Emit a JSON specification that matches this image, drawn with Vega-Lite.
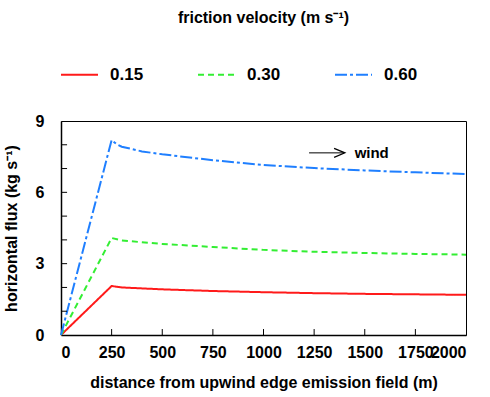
{
  "$schema": "https://vega.github.io/schema/vega-lite/v6.json",
  "autosize": {"type": "none"},
  "padding": {"left": 61, "top": 121, "right": 24, "bottom": 62},
  "width": 405,
  "height": 214,
  "background": "white",
  "title": {"text": "friction velocity (m s⁻¹)", "anchor": "middle", "frame": "group", "font": "Liberation Sans", "fontSize": 16, "fontWeight": "bold", "color": "black", "offset": 29},
  "config": {
    "view": {"stroke": "black", "strokeWidth": 1},
    "axis": {"domainColor": "black", "domainWidth": 1.5, "grid": false, "ticks": false, "labelFont": "Liberation Sans", "labelFontSize": 16, "labelFontWeight": "bold", "labelColor": "black", "titleFont": "Liberation Sans", "titleFontSize": 16, "titleFontWeight": "bold", "titleColor": "black"},
    "legend": {"labelFont": "Liberation Sans", "labelFontSize": 17, "labelFontWeight": "bold", "labelColor": "black"}
  },
  "datasets": {
    "xticks": [{"t": 250}, {"t": 500}, {"t": 750}, {"t": 1000}, {"t": 1250}, {"t": 1500}, {"t": 1750}],
    "yticks": [{"t": 1}, {"t": 2}, {"t": 3}, {"t": 4}, {"t": 5}, {"t": 6}, {"t": 7}, {"t": 8}]
  },
  "layer": [
    {
      "data": {"values": [
        {"u": "0.15", "x": 0, "flux": 0}, {"u": "0.15", "x": 250, "flux": 2.06}, {"u": "0.15", "x": 300, "flux": 2.0}, {"u": "0.15", "x": 500, "flux": 1.92}, {"u": "0.15", "x": 750, "flux": 1.85}, {"u": "0.15", "x": 1000, "flux": 1.8}, {"u": "0.15", "x": 1250, "flux": 1.76}, {"u": "0.15", "x": 1500, "flux": 1.73}, {"u": "0.15", "x": 1750, "flux": 1.71}, {"u": "0.15", "x": 2000, "flux": 1.69},
        {"u": "0.30", "x": 0, "flux": 0}, {"u": "0.30", "x": 250, "flux": 4.08}, {"u": "0.30", "x": 300, "flux": 3.98}, {"u": "0.30", "x": 400, "flux": 3.9}, {"u": "0.30", "x": 500, "flux": 3.83}, {"u": "0.30", "x": 750, "flux": 3.7}, {"u": "0.30", "x": 1000, "flux": 3.58}, {"u": "0.30", "x": 1250, "flux": 3.5}, {"u": "0.30", "x": 1500, "flux": 3.45}, {"u": "0.30", "x": 1750, "flux": 3.41}, {"u": "0.30", "x": 2000, "flux": 3.38},
        {"u": "0.60", "x": 0, "flux": 0}, {"u": "0.60", "x": 250, "flux": 8.2}, {"u": "0.60", "x": 275, "flux": 8.02}, {"u": "0.60", "x": 300, "flux": 7.92}, {"u": "0.60", "x": 400, "flux": 7.72}, {"u": "0.60", "x": 500, "flux": 7.6}, {"u": "0.60", "x": 750, "flux": 7.35}, {"u": "0.60", "x": 1000, "flux": 7.15}, {"u": "0.60", "x": 1250, "flux": 7.02}, {"u": "0.60", "x": 1500, "flux": 6.92}, {"u": "0.60", "x": 1750, "flux": 6.84}, {"u": "0.60", "x": 2000, "flux": 6.77}
      ]},
      "mark": {"type": "line", "strokeWidth": 2},
      "encoding": {
        "x": {"field": "x", "type": "quantitative", "scale": {"domain": [0, 2000], "nice": false}, "axis": {"values": [0, 250, 500, 750, 1000, 1250, 1500, 1750, 2000], "format": "d", "title": "distance from upwind edge emission field (m)", "labelOverlap": false, "labelPadding": 9, "titlePadding": 14}},
        "y": {"field": "flux", "type": "quantitative", "scale": {"domain": [0, 9], "nice": false}, "axis": {"values": [0, 3, 6, 9], "title": "horizontal flux (kg s⁻¹)", "labelOverlap": false, "labelFlush": false, "labelPadding": 17, "titlePadding": 16}},
        "color": {"field": "u", "type": "nominal", "scale": {"domain": ["0.15", "0.30", "0.60"], "range": ["#ff1a1a", "#33ee33", "#1f7fff"]}, "legend": {"title": null, "orient": "none", "direction": "horizontal", "legendX": -1, "legendY": -66, "symbolType": "stroke", "symbolSize": 1369, "symbolStrokeWidth": 2, "labelOffset": 11, "columnPadding": 50}},
        "strokeDash": {"field": "u", "type": "nominal", "scale": {"domain": ["0.15", "0.30", "0.60"], "range": [[1, 0], [6, 4], [12, 3, 3, 3]]}, "legend": {"title": null, "orient": "none", "direction": "horizontal", "legendX": -1, "legendY": -66, "symbolType": "stroke", "symbolSize": 1369, "symbolStrokeWidth": 2, "labelOffset": 11, "columnPadding": 50}}
      }
    },
    {
      "data": {"name": "xticks"},
      "mark": {"type": "rule", "color": "black", "strokeWidth": 1},
      "encoding": {"x": {"field": "t", "type": "quantitative"}, "y": {"datum": 0, "type": "quantitative"}, "y2": {"datum": 0.25}}
    },
    {
      "data": {"name": "yticks"},
      "mark": {"type": "rule", "color": "black", "strokeWidth": 1},
      "encoding": {"y": {"field": "t", "type": "quantitative"}, "x": {"datum": 0, "type": "quantitative"}, "x2": {"datum": 30}}
    },
    {
      "data": {"values": [{"x1": 1225, "x2": 1398, "y": 7.66}]},
      "mark": {"type": "rule", "color": "black", "strokeWidth": 1},
      "encoding": {"x": {"field": "x1", "type": "quantitative"}, "x2": {"field": "x2"}, "y": {"field": "y", "type": "quantitative"}}
    },
    {
      "data": {"values": [{"x": 1402, "y": 7.66}]},
      "mark": {"type": "point", "shape": "M-2.4,-1L0,0L-2.4,1", "filled": false, "size": 81, "stroke": "black", "strokeWidth": 1.2, "opacity": 1},
      "encoding": {"x": {"field": "x", "type": "quantitative"}, "y": {"field": "y", "type": "quantitative"}}
    },
    {
      "data": {"values": [{"x": 1450, "y": 7.66, "t": "wind"}]},
      "mark": {"type": "text", "align": "left", "baseline": "middle", "font": "Liberation Sans", "fontSize": 15, "fontWeight": "bold", "color": "black"},
      "encoding": {"x": {"field": "x", "type": "quantitative"}, "y": {"field": "y", "type": "quantitative"}, "text": {"field": "t"}}
    }
  ]
}
